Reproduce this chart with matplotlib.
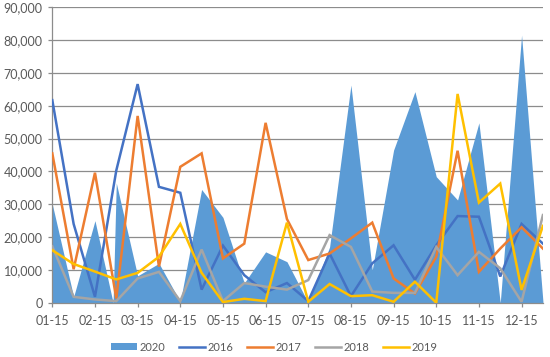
import matplotlib
matplotlib.use("Agg")
import matplotlib.pyplot as plt
from matplotlib.patches import Patch
from matplotlib.lines import Line2D
from matplotlib.ticker import FuncFormatter, MultipleLocator

plt.rcParams["font.family"] = ["Lato", "DejaVu Sans"]

# half-month points, first one at 01-15
tick_labels = ["01-15", "02-15", "03-15", "04-15", "05-15", "06-15",
               "07-15", "08-15", "09-15", "10-15", "11-15", "12-15"]
n_points = 24

# 2020 area (has one extra drop just before the 4th point)
area_x = [0, 1, 2, 2.85, 3, 4, 5, 6, 7, 8, 9, 10, 11, 12, 13, 14, 15,
          16, 17, 18, 19, 20, 21, 22, 23]
v2020 = [30000, 1800, 25000, 0, 36500, 8200, 12000, 300, 34500, 26000,
         6000, 15500, 12500, 0, 17000, 66300, 10000, 46500, 64300,
         38400, 31300, 54800, 0, 81500, 500]

v2016 = [61700, 24000, 1800, 40300, 66600, 35300, 33500, 4000, 17400, 8400,
         3200, 6000, 500, 15000, 2000, 12000, 17500, 7000, 17500, 26400,
         26200, 8000, 24000, 18000]
v2017 = [45500, 10200, 39600, 1300, 56900, 11000, 41400, 45500, 13500,
         18000, 54800, 25500, 13000, 15000, 19600, 24400, 7400, 2800,
         14000, 46300, 9400, 16500, 23000, 16500]
v2018 = [17200, 1800, 1000, 500, 7400, 9400, 500, 16200, 500, 6000, 4900,
         4000, 6900, 20600, 17000, 3400, 3000, 3000, 17000, 8400, 15500,
         10500, 300, 26700]
v2019 = [16000, 11800, 9500, 7100, 9100, 14000, 24000, 9100, 200, 1200, 500,
         24400, 300, 5700, 2000, 2300, 300, 6400, 0, 63600, 30500, 36300,
         3900, 23400]

line_series = [("2016", v2016, "#4472C4"),
               ("2017", v2017, "#ED7D31"),
               ("2018", v2018, "#A5A5A5"),
               ("2019", v2019, "#FFC000")]
area_color = "#5B9BD5"
text_color = "#595959"

fig = plt.figure(figsize=(5.5, 3.57), dpi=100)
ax = fig.add_axes([0.0951, 0.152, 0.892, 0.8276])

x = list(range(n_points))
ax.fill_between(area_x, v2020, 0, color=area_color, linewidth=0, zorder=2)
for name, vals, col in line_series:
    ax.plot(x, vals, color=col, linewidth=1.8, zorder=3,
            solid_joinstyle="miter")

ax.set_xlim(0, n_points - 1)
ax.set_ylim(0, 90000)
ax.yaxis.set_major_locator(MultipleLocator(10000))
ax.yaxis.set_major_formatter(FuncFormatter(lambda v, p: f"{int(v):,}"))
ax.set_xticks(range(0, n_points - 1, 2))
ax.set_xticklabels(tick_labels)

ax.grid(axis="y", color="#8C8C8C", linewidth=0.9, zorder=0)
ax.set_axisbelow(True)
for side in ["top", "right"]:
    ax.spines[side].set_visible(False)
for side in ["left", "bottom"]:
    ax.spines[side].set_color("#8C8C8C")
    ax.spines[side].set_linewidth(0.9)

ax.tick_params(axis="both", colors="#8C8C8C", labelcolor=text_color,
               labelsize=9, length=3, width=0.9)
ax.tick_params(axis="y", pad=4)
ax.tick_params(axis="x", pad=6)

handles = [Patch(facecolor=area_color, edgecolor="none", label="2020")]
for name, vals, col in line_series:
    handles.append(Line2D([0], [0], color=col, linewidth=1.8, label=name))
fig.legend(handles=handles, loc="center", bbox_to_anchor=(0.499, 0.028),
           ncol=5, frameon=False, fontsize=8, handlelength=2.35,
           handleheight=0.55, handletextpad=0.2, columnspacing=1.25,
           labelcolor=text_color)

fig.savefig("out.png", dpi=100)
